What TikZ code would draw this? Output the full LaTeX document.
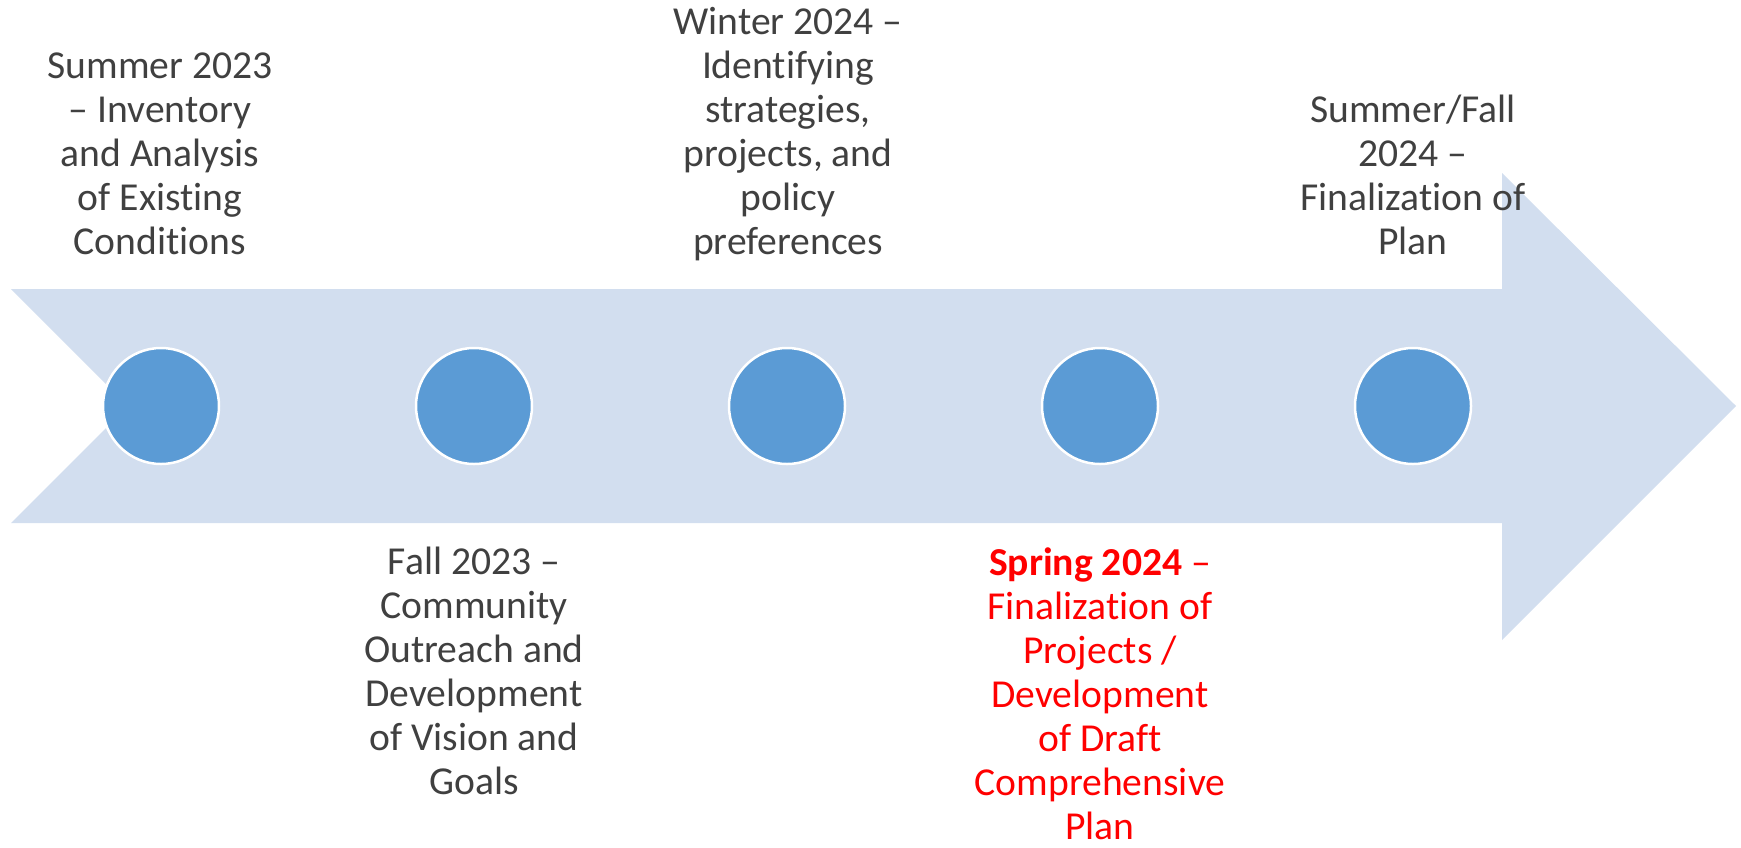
\documentclass[tikz,border=0pt]{standalone}
\usepackage{fontspec}
\setmainfont{Carlito}[Ligatures={TeX,NoCommon}]
\definecolor{shaft}{HTML}{D2DEEF}
\definecolor{dot}{HTML}{5B9BD5}
\definecolor{ink}{HTML}{404040}
\definecolor{hot}{HTML}{FF0000}

\begin{document}
\begin{tikzpicture}[x=1pt,y=-1pt,
	stage dot/.style={circle,draw=white,line width=2.5pt,fill=dot,minimum size=116pt,inner sep=0pt},
	top label/.style={anchor=south},
	low label/.style={anchor=north}]
	\tikzstyle{every node}=[font=\fontsize{39.6}{44}\selectfont,text=ink,align=center,inner sep=0pt,
		execute at begin node=\strut,execute at end node=\strut]
	\useasboundingbox (0,0) rectangle (1741,847);
	% the big arrow
	\fill[shaft] (11,289) -- (1502,289) -- (1502,173) -- (1736,406) -- (1502,640)
		-- (1502,523) -- (11,523) -- (128,406) -- cycle;
	% stages
	\draw
		(161,406)  node(d1) [stage dot] {}
		(474,406)  node(d2) [stage dot] {}
		(787,406)  node(d3) [stage dot] {}
		(1100,406) node(d4) [stage dot] {}
		(1413,406) node(d5) [stage dot] {};
	% labels
	\draw
		(160,268.2)  node(t1) [top label] {Summer 2023\\– Inventory\\and Analysis\\of Existing\\Conditions}
		(474,547.2)  node(t2) [low label] {Fall 2023 –\\Community\\Outreach and\\Development\\of Vision and\\Goals}
		(788,268.2)  node(t3) [top label] {Winter 2024 –\\Identifying\\strategies,\\projects, and\\policy\\preferences}
		(1100,547.2) node(t4) [low label,text=hot] {\textbf{Spring 2024} –\\Finalization of\\Projects /\\Development\\of Draft\\Comprehensive\\Plan}
		(1413,268.2) node(t5) [top label] {Summer/Fall\\2024 –\\Finalization of\\Plan};
\end{tikzpicture}
\end{document}
